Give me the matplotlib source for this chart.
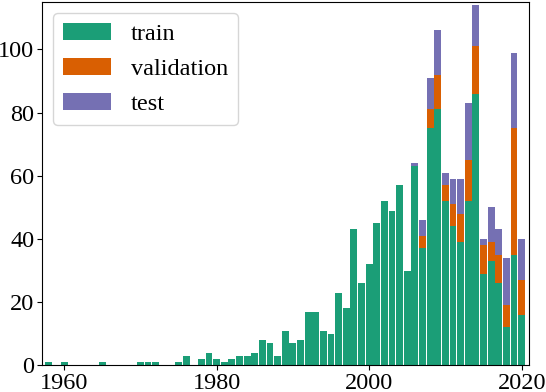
import numpy as np
import matplotlib
matplotlib.use('Agg')
import matplotlib.pyplot as plt

# papers per year, split by dataset partition
years = [1958, 1960, 1965, 1970, 1971, 1972, 1975, 1976] + list(range(1978, 2021))
train = [1, 1, 1, 1, 1, 1, 1, 3,
         2, 4, 2, 1, 2, 3, 3, 4, 8, 7, 3, 11,
         7, 8, 17, 17, 11, 10, 23, 18, 43, 26,
         32, 45, 52, 49, 57, 30, 63, 37, 75, 81,
         52, 44, 39, 52, 86, 29, 33, 26, 12, 35,
         16]
val_by_year = {2007: 4, 2008: 6, 2009: 11, 2010: 5, 2011: 7, 2012: 9, 2013: 13,
               2014: 15, 2015: 9, 2016: 6, 2017: 9, 2018: 7, 2019: 40, 2020: 11}
test_by_year = {2006: 1, 2007: 5, 2008: 10, 2009: 14, 2010: 4, 2011: 8, 2012: 11,
                2013: 18, 2014: 13, 2015: 2, 2016: 11, 2017: 8, 2018: 15, 2019: 24,
                2020: 13}

validation = [val_by_year.get(y, 0) for y in years]
test = [test_by_year.get(y, 0) for y in years]

plt.rcParams['font.family'] = 'serif'
plt.rcParams['font.serif'] = ['Liberation Serif', 'DejaVu Serif']
plt.rcParams['font.size'] = 17.5

fig = plt.figure(figsize=(5.46, 3.92), dpi=100)
ax = fig.add_axes([0.0769, 0.0681, 0.8925, 0.9268])

x = np.array(years)
tr = np.array(train)
va = np.array(validation)
te = np.array(test)
w = 0.9
ax.bar(x, tr, width=w, color='#1b9e77', label='train')
ax.bar(x, va, width=w, bottom=tr, color='#d95f02', label='validation')
ax.bar(x, te, width=w, bottom=tr + va, color='#7570b3', label='test')

ax.set_xlim(1957.1, 2021.0)
ax.set_ylim(0, 115)
ax.set_xticks([1960, 1980, 2000, 2020])
ax.set_yticks([0, 20, 40, 60, 80, 100])
ax.tick_params(labelsize=17.5, pad=2)

ax.legend(loc='upper left', fontsize=17.5, handlelength=2.0, handleheight=0.7,
          labelspacing=0.55, borderaxespad=0.45)

fig.savefig('out.png', dpi=100)
